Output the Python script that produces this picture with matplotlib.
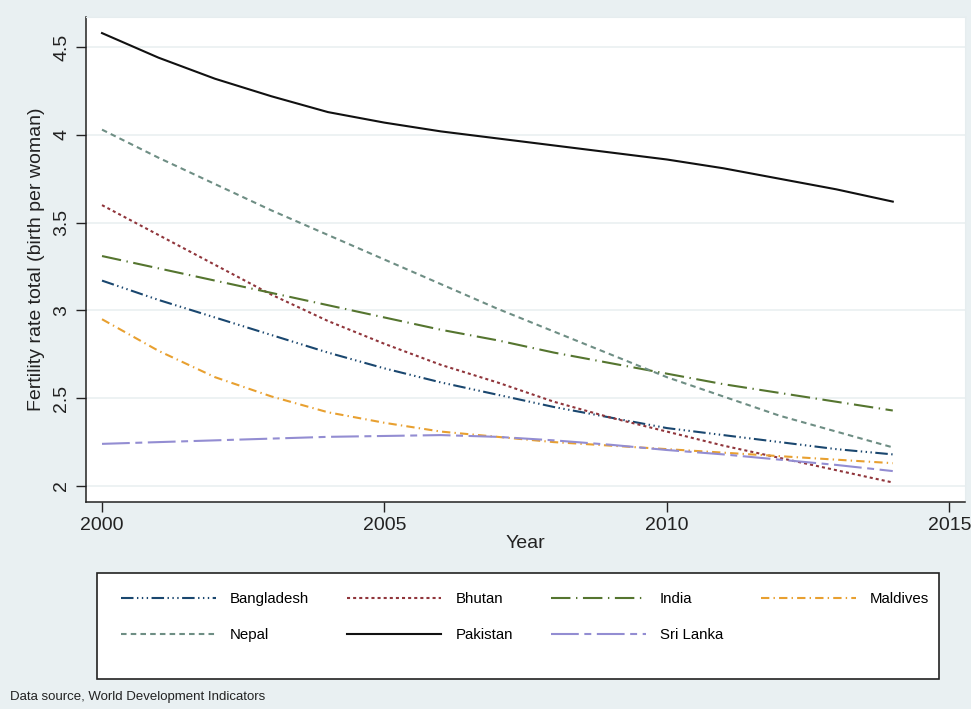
import matplotlib
matplotlib.use("Agg")
from matplotlib import pyplot as plt
from matplotlib.patches import Rectangle

plt.rcParams['font.family'] = ['Liberation Sans', 'DejaVu Sans']
plt.rcParams['lines.scale_dashes'] = False

years = list(range(2000, 2015))

bangladesh = [3.17, 3.06, 2.96, 2.86, 2.76, 2.67, 2.59, 2.52, 2.45, 2.39, 2.33, 2.29, 2.25, 2.21, 2.18]
bhutan = [3.60, 3.43, 3.26, 3.09, 2.94, 2.81, 2.69, 2.59, 2.48, 2.39, 2.31, 2.23, 2.16, 2.09, 2.02]
india = [3.31, 3.24, 3.17, 3.10, 3.03, 2.96, 2.89, 2.83, 2.76, 2.70, 2.64, 2.58, 2.53, 2.48, 2.43]
maldives = [2.95, 2.77, 2.62, 2.51, 2.42, 2.36, 2.31, 2.28, 2.25, 2.23, 2.21, 2.19, 2.17, 2.15, 2.13]
nepal = [4.03, 3.87, 3.72, 3.57, 3.43, 3.29, 3.15, 3.01, 2.88, 2.75, 2.62, 2.51, 2.40, 2.31, 2.22]
pakistan = [4.58, 4.44, 4.32, 4.22, 4.13, 4.07, 4.02, 3.98, 3.94, 3.90, 3.86, 3.81, 3.75, 3.69, 3.62]
sri_lanka = [2.24, 2.25, 2.26, 2.27, 2.28, 2.285, 2.29, 2.28, 2.26, 2.235, 2.205, 2.18, 2.15, 2.12, 2.085]

countries = ["Bangladesh", "Bhutan", "India", "Maldives", "Nepal", "Pakistan", "Sri Lanka"]
series = [bangladesh, bhutan, india, maldives, nepal, pakistan, sri_lanka]
colors = ["#1a476f", "#90353b", "#55752f", "#e8a030", "#6e8e84", "#111111", "#938dd2"]
styles = [(0, (9, 2.5, 1, 2.5, 1, 2.5, 1, 2.5)),
          (0, (2.2, 2.2)),
          (0, (14, 4, 1, 4)),
          (0, (6, 3, 1, 3)),
          (0, (4, 3)),
          "-",
          (0, (20, 4, 5, 4))]

x_ticks = [2000, 2005, 2010, 2015]
y_ticks = [2, 2.5, 3, 3.5, 4, 4.5]
y_tick_labels = ["2", "2.5", "3", "3.5", "4", "4.5"]

bg = "#e9f0f2"
fig = plt.figure(figsize=(9.71, 7.09), dpi=100, facecolor=bg)
ax = fig.add_axes([0.0886, 0.2920, 0.9053, 0.6841], facecolor="white")

for name, vals, c, ls in zip(countries, series, colors, styles):
    ax.plot(years, vals, color=c, linestyle=ls, lw=1.5, label=name)

ax.set_xlim(1999.717, 2015.28)
ax.set_ylim(1.909, 4.672)
ax.set_xticks(x_ticks)
ax.set_yticks(y_ticks)
ax.set_yticklabels(y_tick_labels, rotation=90, va="center")
ax.yaxis.grid(True, color="#eaf0f1", lw=1.2)
ax.set_axisbelow(True)

for side in ["top", "right"]:
    ax.spines[side].set_color("#e6edef")
for side in ["left", "bottom"]:
    ax.spines[side].set_color("#222222")
    ax.spines[side].set_linewidth(1.1)

ax.tick_params(axis="both", length=7.5, width=1.0, color="#222222", labelsize=14, labelcolor="#222222")
ax.tick_params(axis="x", pad=3)
ax.tick_params(axis="y", pad=4)

ax.set_xlabel("Year", fontsize=14, color="#222222", labelpad=1)
ax.set_ylabel("Fertility rate total (birth per woman)", fontsize=14, color="#222222", labelpad=6)

# legend box drawn as its own patch, legend itself without frame
fig.patches.append(Rectangle((0.0999, 0.0423), 0.867, 0.1495, transform=fig.transFigure,
                             facecolor="white", edgecolor="#222222", lw=1.2, zorder=0))
handles, labels = ax.get_legend_handles_labels()
# matplotlib fills legend columns first; reorder so rows read like the original
order = [0, 4, 1, 5, 2, 6, 3]
fig.legend([handles[i] for i in order], [labels[i] for i in order], ncol=4,
           loc="upper left", bbox_to_anchor=(121 / 971, 1 - 592 / 709),
           frameon=False, fontsize=10.8, handlelength=6.3, handletextpad=0.93,
           columnspacing=2.55, labelspacing=1.45, borderpad=0, borderaxespad=0)

fig.text(10 / 971, 1 - 697 / 709, "Data source, World Development Indicators",
         fontsize=9.5, color="#222222", va="center", ha="left")

fig.savefig("out.png", dpi=100, facecolor=bg)
